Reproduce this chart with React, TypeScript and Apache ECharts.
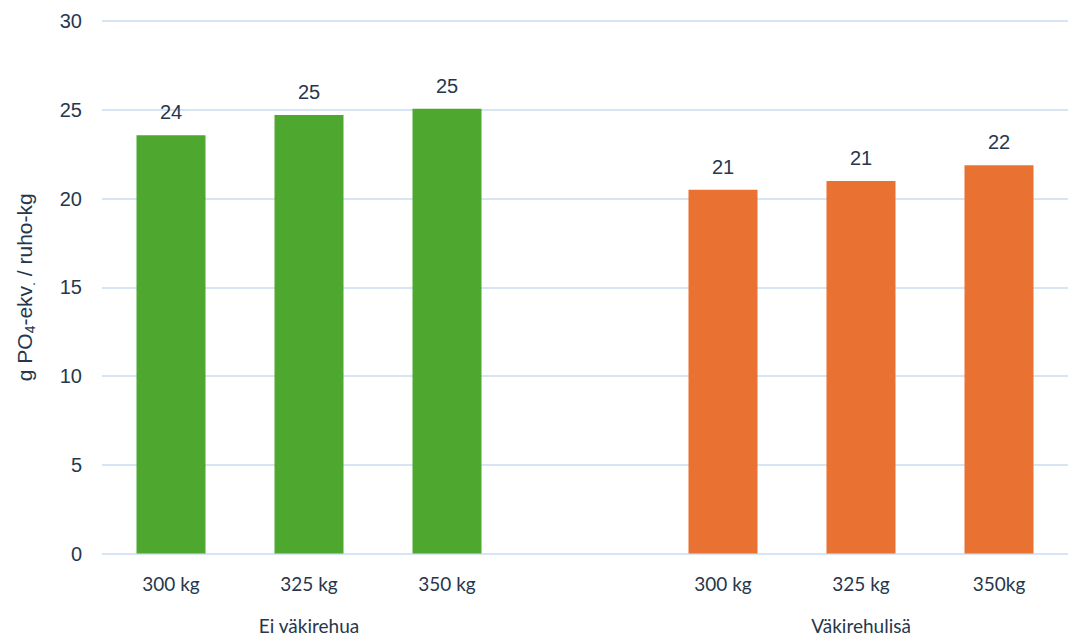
import React, { useEffect, useRef } from "react";
import * as echarts from "echarts";

// Categories: three carcass weights per feeding group, with an empty slot between groups
const weightLabels = ["300 kg", "325 kg", "350 kg", "", "300 kg", "325 kg", "350kg"];
const groupLabels = ["", "Ei väkirehua", "", "", "", "Väkirehulisä", ""];

// g PO4-eq. per carcass kg
const noConcentrate = [23.56, 24.71, 25.05, null, null, null, null];
const withConcentrate = [null, null, null, null, 20.5, 20.99, 21.87];

const yTicks = { min: 0, max: 30, interval: 5 };

const TEXT = "#26374d";
const GRID = "#c8dbf0";
const GREEN = "#4ea72e";
const ORANGE = "#e97132";
const SANS = "Liberation Sans, Arial, sans-serif";

export default function App() {
  const ref = useRef<HTMLDivElement>(null);

  useEffect(() => {
    if (!ref.current) return;
    const chart = echarts.init(ref.current, null, { renderer: "svg" });

    const valueLabel = {
      show: true,
      position: "top",
      distance: 13,
      fontFamily: SANS,
      fontSize: 20,
      color: TEXT,
      formatter: (p: any) => String(Math.round(p.value)),
    };

    chart.setOption({
      animation: false,
      grid: { left: 102, right: 1, top: 21, bottom: 82.5, containLabel: false },
      xAxis: [
        {
          type: "category",
          data: weightLabels,
          axisLine: { show: false },
          axisTick: { show: false },
          axisLabel: {
            interval: 0,
            margin: 20,
            fontFamily: "Lato, sans-serif",
            fontSize: 19,
            color: TEXT,
          },
        },
        {
          type: "category",
          data: groupLabels,
          position: "bottom",
          axisLine: { show: false },
          axisTick: { show: false },
          axisLabel: {
            interval: 0,
            margin: 62,
            fontFamily: "Lato, sans-serif",
            fontSize: 19,
            color: TEXT,
          },
        },
      ],
      yAxis: {
        type: "value",
        min: yTicks.min,
        max: yTicks.max,
        interval: yTicks.interval,
        axisLine: { show: false },
        axisTick: { show: false },
        axisLabel: {
          margin: 20,
          fontFamily: SANS,
          fontSize: 20,
          color: TEXT,
        },
        splitLine: { lineStyle: { color: GRID, width: 1.5 } },
        name: "g PO{sub|4}-ekv{sub|.} / ruho-kg",
        nameLocation: "middle",
        nameRotate: 90,
        nameGap: 65,
        nameTextStyle: {
          fontFamily: SANS,
          fontSize: 21,
          color: TEXT,
          lineHeight: 26,
          rich: {
            sub: {
              fontFamily: SANS,
              fontSize: 14,
              color: TEXT,
              verticalAlign: "bottom",
              lineHeight: 26,
              padding: [9, 0, 0, 0],
            },
          },
        },
      },
      series: [
        {
          type: "bar",
          stack: "all",
          barCategoryGap: "50%",
          data: noConcentrate,
          itemStyle: { color: GREEN },
          label: valueLabel,
        },
        {
          type: "bar",
          stack: "all",
          barCategoryGap: "50%",
          data: withConcentrate,
          itemStyle: { color: ORANGE },
          label: valueLabel,
        },
      ],
    });

    return () => chart.dispose();
  }, []);

  return (
    <div
      ref={ref}
      style={{ position: "fixed", left: 0, top: 0, width: 1069, height: 636, background: "#fff" }}
    />
  );
}
